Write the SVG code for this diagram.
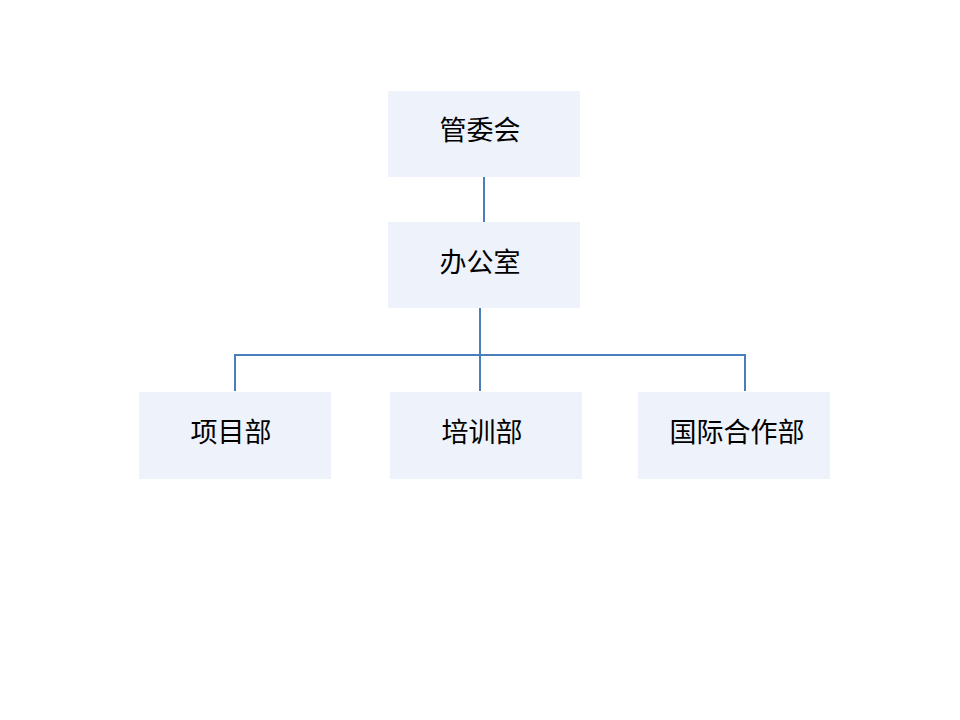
<svg xmlns="http://www.w3.org/2000/svg" width="960" height="720" viewBox="0 0 960 720">
<style>
.box{fill:#EEF2FB;}
.lbl{font-family:"Liberation Sans","Noto Sans CJK SC",sans-serif;font-size:27px;fill:#000;text-anchor:middle;dominant-baseline:central;}
.conn{stroke:#4A7EBB;stroke-width:2;fill:none;}
</style>
<rect width="960" height="720" fill="#fff"/>
<g id="connectors">
<line class="conn" x1="484" y1="177" x2="484" y2="222"/>
<line class="conn" x1="480" y1="308" x2="480" y2="391"/>
<polyline class="conn" points="235,391 235,355 745,355 745,391"/>
</g>
<g id="n1"><rect class="box" x="388" y="91" width="192" height="86"/><text class="lbl" x="480" y="131">管委会</text></g>
<g id="n2"><rect class="box" x="388" y="222" width="192" height="86"/><text class="lbl" x="480" y="263">办公室</text></g>
<g id="n3"><rect class="box" x="139" y="392" width="192" height="87"/><text class="lbl" x="231" y="433">项目部</text></g>
<g id="n4"><rect class="box" x="390" y="392" width="192" height="87"/><text class="lbl" x="482" y="433">培训部</text></g>
<g id="n5"><rect class="box" x="638" y="392" width="192" height="87"/><text class="lbl" x="737" y="433">国际合作部</text></g>
</svg>
